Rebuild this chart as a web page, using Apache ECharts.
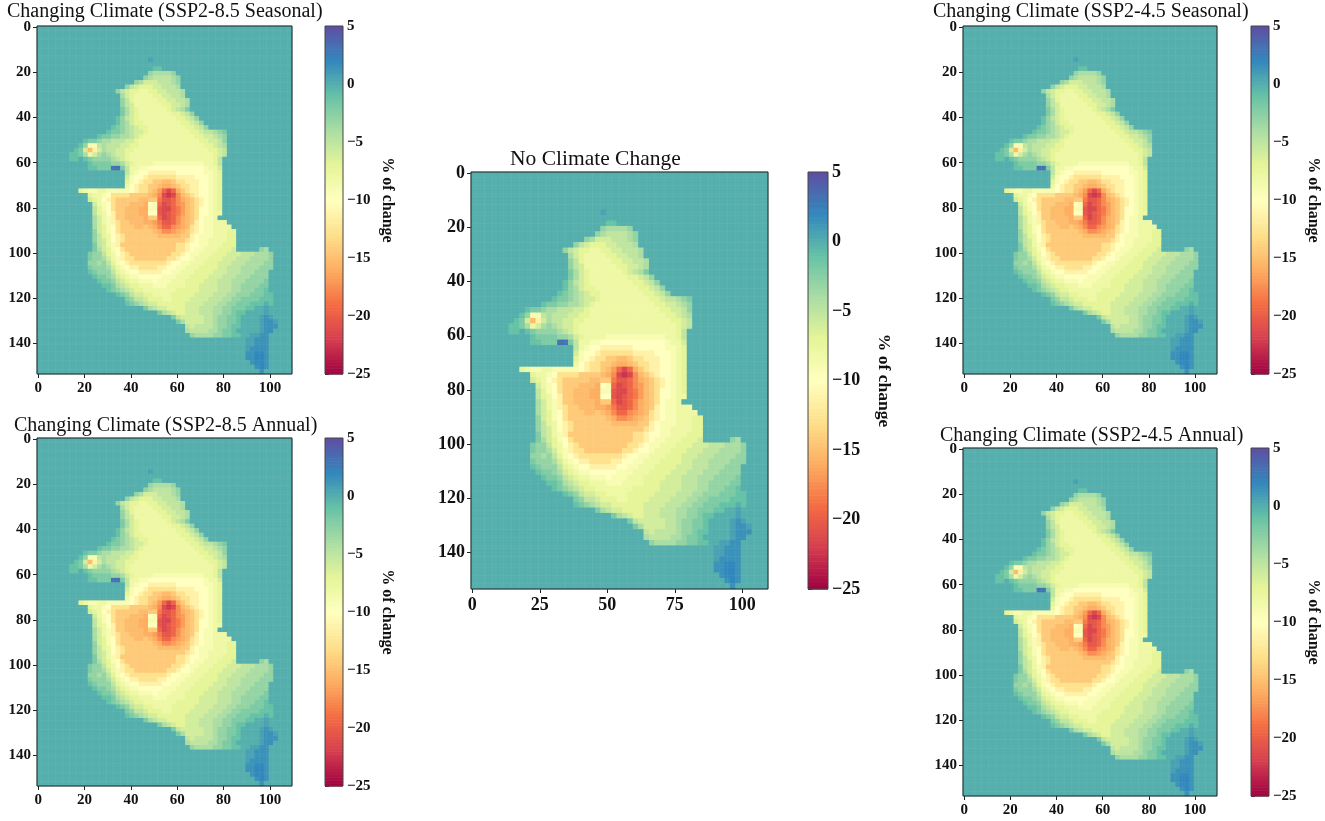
<!DOCTYPE html>
<html><head><meta charset="utf-8">
<style>html,body{margin:0;padding:0;background:#fff}#c{width:1325px;height:821px}</style>
<script src="https://cdn.jsdelivr.net/npm/echarts@6/dist/echarts.min.js"></script>
</head><body><div id="c"></div>
<script>
// Percent-of-change field, on a 2-unit grid.
// Each entry: row (y/2), first column (x/2), one character per cell.
const levelValues = {'0':0,'1':-1,'2':-2,'3':-3,'4':-4,'5':-5,'6':-6,'7':-7,'8':-8,'9':-9,
  A:-10,B:-11.3,C:-12.8,D:-14.3,E:-15.2,F:-16,G:-16.8,H:-17.6,I:-18.5,J:-19.5,K:-20.5,L:-21.5,M:-22.5,
  p:0.7,q:1.5,r:2,s:3.2};
const landRows = [
 [7,24,"p"],[9,25,"11"],
 [10,24,"344443"],[11,23,"34555543"],[12,21,"3466655543"],[13,19,"356777665554"],
 [14,17,"356778877665554"],[15,18,"46788887766554"],[16,18,"357888887766554"],
 [17,18,"356888888776654"],[18,18,"246788888876542"],[19,18,"2467888888877653"],
 [20,17,"135678888888877653"],[21,17,"1346778888888877653"],[22,16,"123456778888888877653"],
 [23,15,"12234566788888888877655432"],[24,13,"1223344567888888888887766543"],
 [25,10,"1223445556678888888888888776653"],[26,9,"13995455566778888888888888877654"],
 [27,8,"126EB6455667788888888888888887765"],[28,7,"1124864345667888888888888888888765"],
 [29,7,"110123333456788888888888888888875"],[30,11,"12222334678888999999999998875"],
 [31,11,"11222ss258899AAAAAAAAAAAA9886"],
 [32,19,"589AABBBBBBAAAAAA9987"],[33,19,"69AABCCCCCCBBBBAAA987"],[34,19,"79ABCCDDEEDCCBBBAA987"],
 [35,19,"8ABCCDDEFFEDCCBBAA987"],[36,9,"78998899999ABCCDEGJLJFDCBBAA987"],
 [37,11,"7889ACCCCDDDDEFHLMLHEDCBAA987"],[38,11,"678ABCDDDDDEEDDIKKJHFEDCBA987"],
 [39,12,"689ACDDDEEEFA9JLKJHGEDCBA987"],[40,12,"579ACDDEEEFF99KLLJIGEDCAA987"],
 [41,12,"578ABDDEEEFFAAKLKJIGEDCAA988"],[42,12,"4689BDDEEEEFDDJLKJHFEDCA998"],
 [43,12,"4689BCDDEEEFFGIKKJHFEDBA99888"],[44,12,"4679ACDDDEEDEFHJJHGFECBA998888"],
 [45,12,"3679ACDDDDDDDEFHHGFEDCBA9988877"],[46,12,"3578ABCDDDDDDDEEEEEDDBA99988877"],
 [47,12,"3568ABCDDDDDDDDDDDDDCBA99888877"],[48,12,"25689BDDDDDDDDDDDDCCBAA99888777"],
 [49,12,"24679ACDDDDDDDDDDDCCBA998887776"],[49,48,"34"],
 [50,11,"233578ABCDDDDDDDDDCCBA998887776665554443"],
 [51,11,"2334689BCCDDDDDDDCCBAA988877766655544443"],
 [52,11,"3343579ABCCCCCCCCBAA99888777666555444433"],
 [53,11,"23334689ABBCCCCBBAA998887777665554444333"],
 [54,11,"123335789AABBBBBAA99888777766655544433 3".replace(' ','')],
 [55,12,"1223467899AAAAA99988877776665554443333"],
 [56,13,"122356788999A999888777766655544433332"],
 [57,14,"112456778889998888777666655544333322"],
 [58,15,"12345677888888877777666655544333221"],
 [59,17,"1235667788887777766665554433322211"],
 [60,19,"23556777887777666655544332222111"],
 [61,19,"12345667777776666555443322211101"],
 [62,23,"24566777766655544332221100p0"],
 [63,26,"24567766655544332110000p0"],
 [64,29,"2566666554332210000pqp"],
 [65,30,"246666554332210000pqqp"],
 [66,32,"5655554332110000pqqq"],
 [67,32,"4555544322100000pqq"],
 [68,33,"3444433221100ppqq"],
 [69,45,"ppqqq"],[70,45,"ppqqq"],[71,45,"pqqqq"],[72,45,"qqrrq"],[73,45,"qqrrq"],
 [74,46,"qrrq"],[75,47,"qrq"],[76,48,"q"]
];
const panelNames = [
 "Changing Climate (SSP2-8.5 Seasonal)",
 "Changing Climate (SSP2-8.5 Annual)",
 "No Climate Change",
 "Changing Climate (SSP2-4.5 Seasonal)",
 "Changing Climate (SSP2-4.5 Annual)"
];
const barTicks = [-25,-20,-15,-10,-5,0,5];
const spectral = ['#9e0142','#d53e4f','#f46d43','#fdae61','#fee08b','#ffffbf','#e6f598','#abdda4','#66c2a5','#3288bd','#5e4fa2'];

const layouts = [
 {l:37, t:26, w:255,h:348,bl:325,bw:18,xStep:20,fs:15,nfs:16,gap:36,tl:7,  tt:2,  tfs:20},
 {l:37, t:438,w:255,h:348,bl:325,bw:18,xStep:20,fs:15,nfs:16,gap:36,tl:14, tt:416,tfs:20},
 {l:471,t:172,w:297,h:417,bl:808,bw:20,xStep:25,fs:18,nfs:17.5,gap:47,tl:510,tt:148,tfs:21.5},
 {l:963,t:26, w:254,h:348,bl:1251,bw:18,xStep:20,fs:15,nfs:16,gap:36,tl:933,tt:2,  tfs:20},
 {l:963,t:448,w:254,h:348,bl:1251,bw:18,xStep:20,fs:15,nfs:16,gap:36,tl:940,tt:426,tfs:20}
];

const NX=110, NY=154;
const xCats=[...Array(NX).keys()].map(String), yCats=[...Array(NY).keys()].map(String);
const cols=55, rows=77;
const field=[]; for(let r=0;r<rows;r++) field.push(new Array(cols).fill(0));
landRows.forEach(([r,c0,s])=>{ for(let i=0;i<s.length&&c0+i<cols;i++){ const v=levelValues[s[i]]; if(v!==undefined) field[r][c0+i]=v; } });
const cells=[];
for(let r=0;r<rows;r++)for(let c=0;c<cols;c++)for(let a=0;a<2;a++)for(let b=0;b<2;b++){
  const x=2*c+a,y=2*r+b; if(x<NX&&y<NY) cells.push([x,y,field[r][c]]);
}
const levelStep=0.25, barLevels=[];
for(let v=barTicks[0];v<barTicks[barTicks.length-1];v+=levelStep) barLevels.push([0,v,v+levelStep/2]);

const font='"Liberation Serif","Times New Roman",serif';
const grid=[],xAxis=[],yAxis=[],series=[],title=[];
layouts.forEach((p,i)=>{
  title.push({text:panelNames[i],left:p.tl,top:p.tt,padding:0,textStyle:{fontFamily:font,fontWeight:'normal',fontSize:p.tfs,color:'#111'}});
  const gi=i*2, gb=i*2+1;
  grid.push({left:p.l,top:p.t,width:p.w,height:p.h,show:true,z:10,backgroundColor:'transparent',borderColor:'#222',borderWidth:1});
  grid.push({left:p.bl,top:p.t,width:p.bw,height:p.h,show:true,z:10,backgroundColor:'transparent',borderColor:'#444',borderWidth:1});
  const xi=(idx)=>idx%p.xStep===0, yi=(idx)=>idx%20===0;
  const lab={fontFamily:font,fontWeight:'bold',fontSize:p.fs,color:'#111'};
  xAxis.push({type:'category',gridIndex:gi,data:xCats,boundaryGap:true,
    axisLine:{show:false},splitLine:{show:false},
    axisTick:{show:true,alignWithLabel:true,interval:xi,length:4,lineStyle:{color:'#222'}},
    axisLabel:Object.assign({interval:xi,margin:7,hideOverlap:false},lab)});
  yAxis.push({type:'category',gridIndex:gi,data:yCats,inverse:true,boundaryGap:true,
    axisLine:{show:false},splitLine:{show:false},
    axisTick:{show:true,alignWithLabel:true,interval:yi,length:4,lineStyle:{color:'#222'}},
    axisLabel:Object.assign({interval:yi,margin:6,hideOverlap:false},lab)});
  xAxis.push({type:'value',gridIndex:gb,min:0,max:1,show:false});
  yAxis.push({type:'value',gridIndex:gb,position:'right',min:barTicks[0],max:barTicks[barTicks.length-1],interval:5,
    axisLine:{show:false},splitLine:{show:false},
    axisTick:{show:true,length:4,lineStyle:{color:'#222'}},
    axisLabel:Object.assign({margin:4,formatter:v=>String(v).replace('-','\u2212')},lab),
    name:'% of change',nameLocation:'middle',nameRotate:-90,nameGap:p.gap,
    nameTextStyle:{fontFamily:font,fontWeight:'bold',fontSize:p.nfs,color:'#111'}});
  series.push({type:'heatmap',xAxisIndex:gi,yAxisIndex:gi,data:cells,progressive:0,animation:false,
    emphasis:{disabled:true},silent:true,itemStyle:{borderWidth:0}});
  series.push({type:'custom',xAxisIndex:gb,yAxisIndex:gb,data:barLevels,progressive:0,animation:false,silent:true,
    encode:{x:0,y:1},
    renderItem:(params,api)=>{
      const a=api.coord([0,api.value(1)]), b=api.coord([1,api.value(1)+levelStep]);
      return {type:'rect',shape:{x:a[0],y:b[1],width:b[0]-a[0],height:a[1]-b[1]+0.6},style:{fill:api.visual('color')}};
    }});
});
const chart=echarts.init(document.getElementById('c'),null,{renderer:'canvas'});
chart.setOption({animation:false,backgroundColor:'#fff',title,grid,xAxis,yAxis,series,
  visualMap:{show:false,type:'continuous',min:-25,max:5,dimension:2,seriesIndex:series.map((s,i)=>i),inRange:{color:spectral}}});
</script></body></html>
